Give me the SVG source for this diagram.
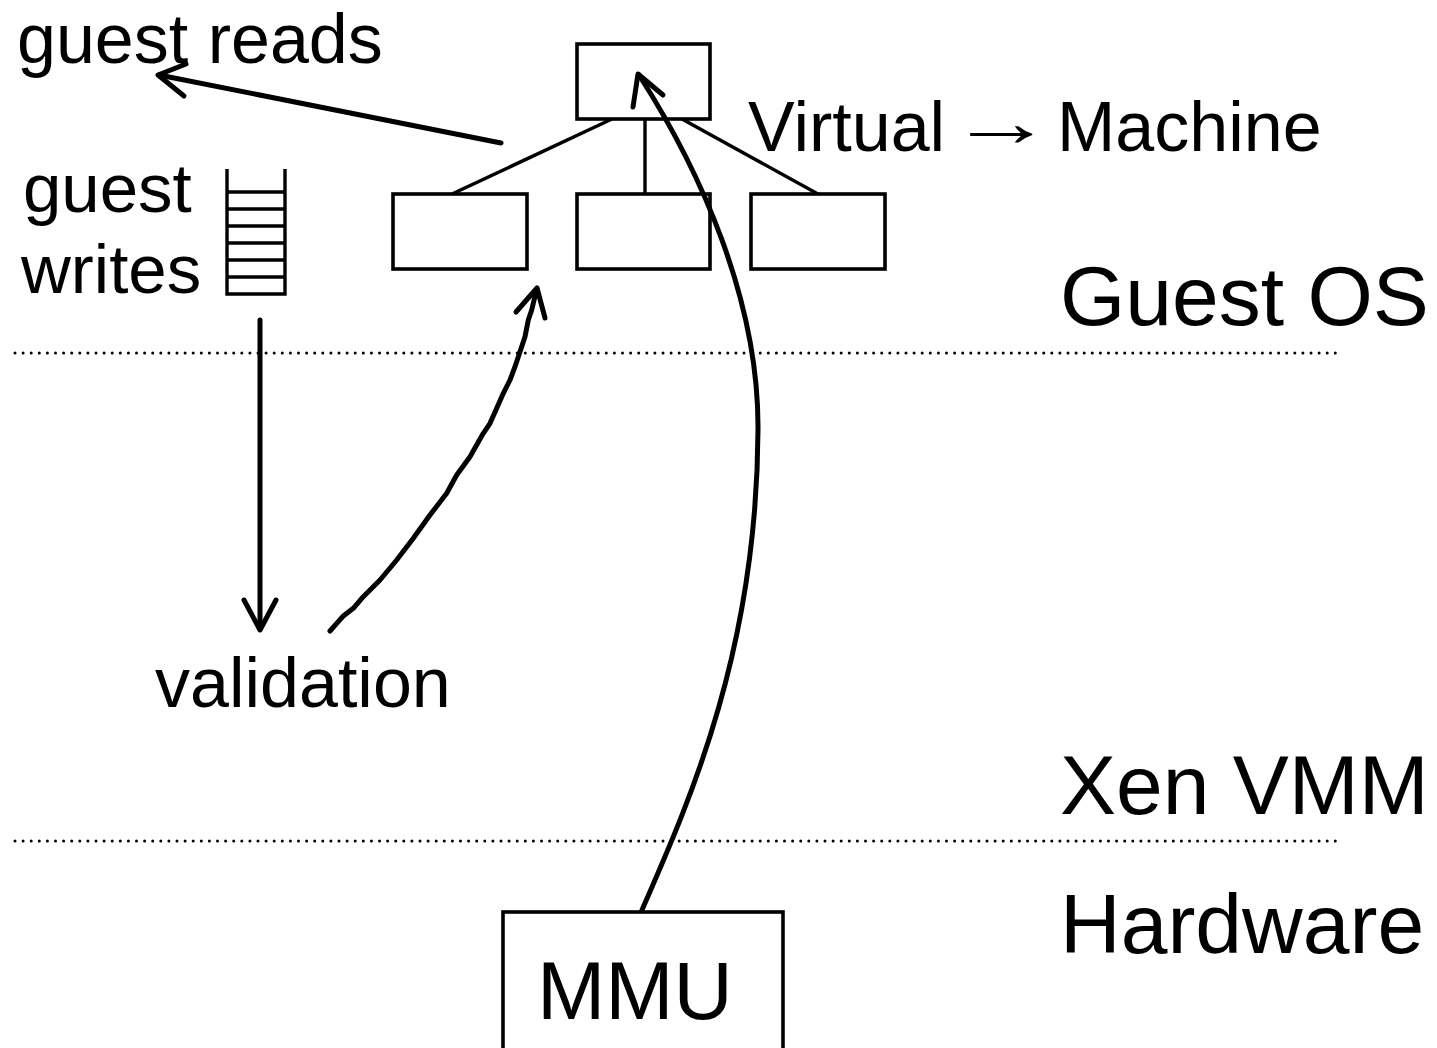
<svg xmlns="http://www.w3.org/2000/svg" width="1437" height="1048" viewBox="0 0 1437 1048">
  <style>
    .lbl { font-family: "Liberation Sans", Arial, sans-serif; fill: #000; }
    .box { fill: #fff; stroke: #000; stroke-width: 3.6; }
    .edge { fill: none; stroke: #000; stroke-width: 3.4; }
    .flow { fill: none; stroke: #000; stroke-width: 5; stroke-linecap: round; stroke-linejoin: round; }
    .sep { fill: none; stroke: #000; stroke-width: 3; stroke-dasharray: 0 8.1; stroke-linecap: round; }
  </style>

  <rect width="1437" height="1048" fill="#fff"/>

  <!-- layer separators -->
  <g id="separators">
    <line class="sep" x1="15" y1="353" x2="1338" y2="353"/>
    <line class="sep" x1="15" y1="841" x2="1338" y2="841"/>
  </g>

  <!-- layer labels -->
  <g id="layer-labels" class="lbl">
    <text x="1060" y="325" font-size="84">Guest OS</text>
    <text x="1060" y="814" font-size="84">Xen VMM</text>
    <text x="1060" y="953" font-size="84">Hardware</text>
  </g>

  <!-- page table tree -->
  <g id="pt-edges">
    <line class="edge" x1="612" y1="119" x2="452" y2="194"/>
    <line class="edge" x1="645" y1="119" x2="645" y2="194"/>
    <line class="edge" x1="682" y1="119" x2="818" y2="194"/>
  </g>
  <g id="pt-root"><rect class="box" x="577" y="44" width="133" height="75"/></g>
  <g id="pt-leaf1"><rect class="box" x="393" y="194" width="134" height="75"/></g>
  <g id="pt-leaf2"><rect class="box" x="577" y="194" width="133" height="75"/></g>
  <g id="pt-leaf3"><rect class="box" x="751" y="194" width="134" height="75"/></g>

  <g id="mapping-label" class="lbl" font-size="70">
    <text x="748" y="151">Virtual</text>
    <text transform="translate(949,146) scale(1.5,1)">→</text>
    <text x="1057" y="151">Machine</text>
  </g>

  <!-- update queue -->
  <g id="queue" fill="none" stroke="#000" stroke-width="3.4">
    <path d="M227,169 V294 H285 V169"/>
    <path d="M227,192 H285 M227,209 H285 M227,226 H285 M227,243 H285 M227,260 H285 M227,277 H285"/>
  </g>

  <g id="guest-labels" class="lbl">
    <text x="17" y="63" font-size="70">guest reads</text>
    <text x="23" y="212" font-size="69">guest</text>
    <text x="21" y="293" font-size="69">writes</text>
    <text x="155" y="707" font-size="70">validation</text>
  </g>

  <!-- MMU -->
  <g id="mmu">
    <rect class="box" x="503" y="912" width="280" height="160"/>
    <text class="lbl" x="537" y="1019" font-size="82">MMU</text>
  </g>

  <!-- connectors -->
  <g id="connectors">
    <!-- guest reads -->
    <line class="flow" x1="501" y1="143" x2="159" y2="75"/>
    <polyline class="flow" points="186,64 158,75 184,96"/>

    <!-- queued writes down to validation -->
    <line class="flow" x1="260" y1="320" x2="260" y2="628"/>
    <polyline class="flow" points="244,600 260,630 276,600"/>

    <!-- validated update into the tree -->
    <polyline class="flow" points="330,631 336.7,623.3 343.3,616 353.3,608.3 363.3,596.7 380,580 396.7,560 413.3,538.3 430,515 446.7,493.3 456.7,475 470,456.7 483.3,433.3 490,423.3 496.7,408.3 503.3,393.3 510,380 515,366.7 520,351.7 525,336.7 528.3,320 531.7,310 536.7,289"/>
    <polyline class="flow" points="516,312 537,288 545,318"/>

    <!-- MMU walks the page table -->
    <path class="flow" d="M642,910 C690,800 757,650 758,430 C759,300 700,170 639,75"/>
    <polyline class="flow" points="633,107 638,74 663,95"/>
  </g>
</svg>
